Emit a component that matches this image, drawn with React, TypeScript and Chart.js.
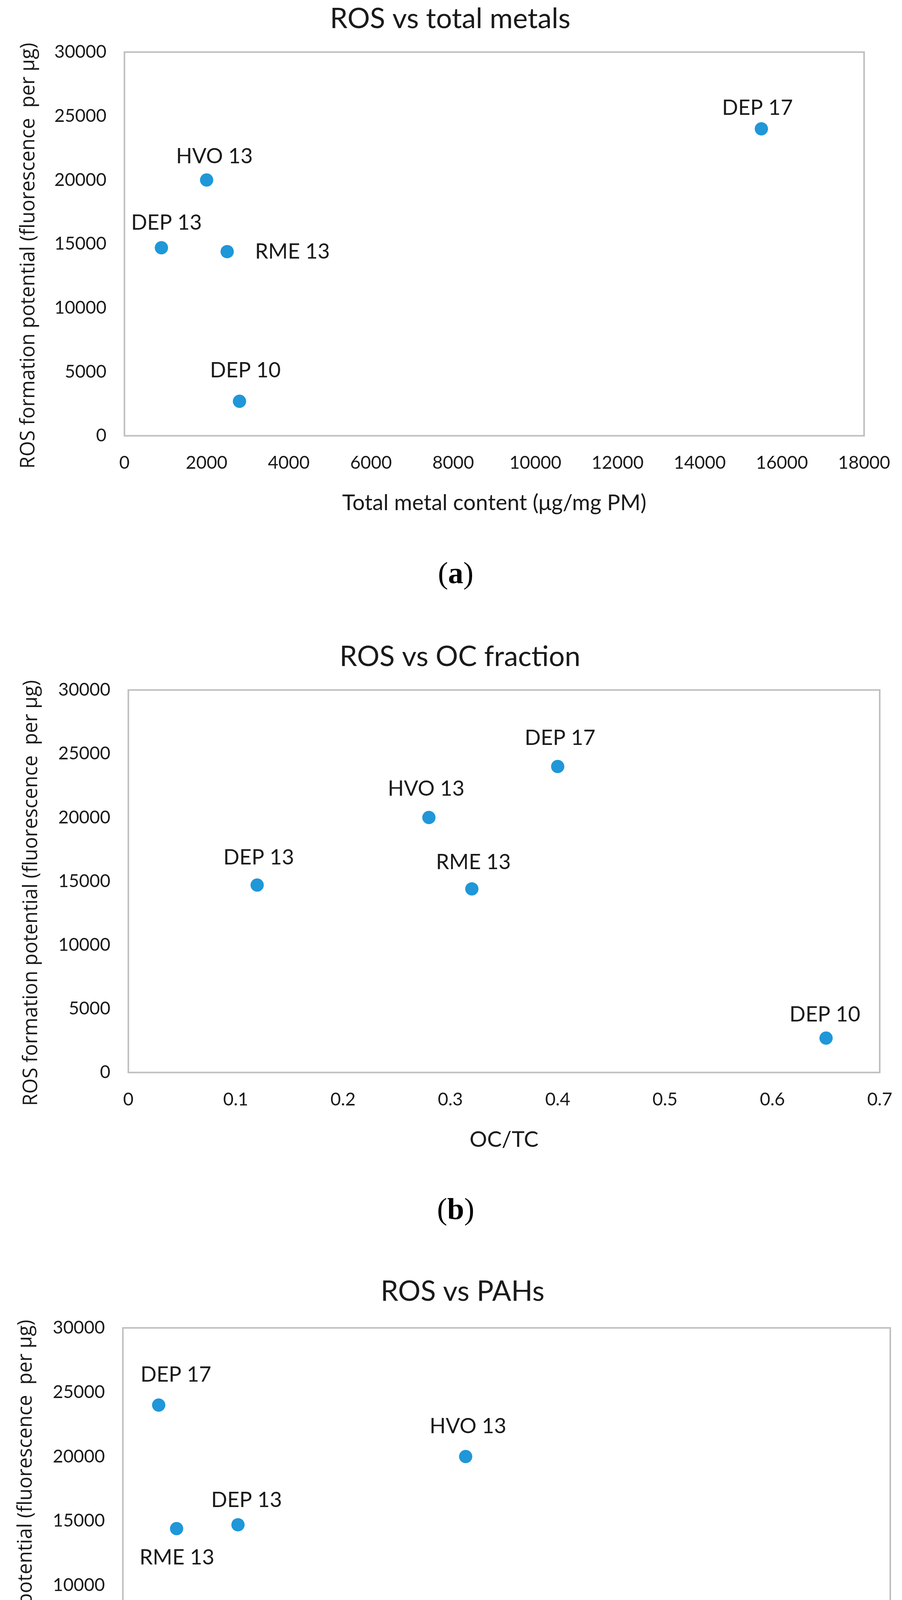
import React, { useEffect, useRef } from "react";
import { Chart, registerables } from "chart.js";

Chart.register(...registerables);

// ---------- data ----------
const samples = ["DEP 10", "DEP 13", "DEP 17", "HVO 13", "RME 13"];
const rosPotential = [2700, 14700, 24000, 20000, 14400];
const totalMetals = [2800, 900, 15500, 2000, 2500];
const ocTcRatio = [0.65, 0.12, 0.4, 0.28, 0.32];
const pahPercent = [2.71, 0.45, 0.14, 1.34, 0.21];

const yTicks = [0, 5000, 10000, 15000, 20000, 25000, 30000];
const xTicksMetals = [0, 2000, 4000, 6000, 8000, 10000, 12000, 14000, 16000, 18000];
const xTicksOc = [0, 0.1, 0.2, 0.3, 0.4, 0.5, 0.6, 0.7];
const xTicksPah = [0, 0.5, 1, 1.5, 2, 2.5, 3];

const chartTitles = ["ROS vs total metals", "ROS vs OC fraction", "ROS vs PAHs"];
const xAxisTitles = ["Total metal content (μg/mg PM)", "OC/TC", "PAHs (% of total PM)"];
const yAxisTitle = "ROS formation potential (fluorescence  per μg)";
const panelLetters = ["a", "b", "c"];

// ---------- styles / layout ----------
const BLUE = "#1F97D8";
const TEXT = "#1a1a1a";
const FRAME = "#BFBFBF";
const SANS = "Lato, 'Open Sans', sans-serif";
const YTITLE_FONT = "50.5px 'Open Sans', sans-serif";

// label offsets (dx, dy) of each point label relative to its marker, same order as samples
const labelOffsetsA = [[15, -79], [13, -64], [-10, -53], [20, -60], [167, 0]];
const labelOffsetsB = [[-3, -60], [4, -70], [6, -73], [-7, -73], [4, -68]];
const labelOffsetsC = [[-13, -71], [22, -63], [44, -77], [6, -77], [1, 74]];

type Panel = {
  x: number[];
  xTicks: number[];
  title: string;
  xTitle: string;
  offsets: number[][];
  top: number;
  height: number;
  padL: number;
  padR: number;
  yTitleX: number;
  titlePadTop: number;
  titlePadBottom: number;
  captionY: number;
  letter: string;
};

const panels: Panel[] = [
  {
    x: totalMetals, xTicks: xTicksMetals, title: chartTitles[0], xTitle: xAxisTitles[0],
    offsets: labelOffsetsA, top: 0, height: 1322, padL: 93, padR: 97, yTitleX: 74,
    titlePadTop: 6, titlePadBottom: 41, captionY: 1475, letter: panelLetters[0],
  },
  {
    x: ocTcRatio, xTicks: xTicksOc, title: chartTitles[1], xTitle: xAxisTitles[1],
    offsets: labelOffsetsB, top: 1600, height: 1352, padL: 103, padR: 57, yTitleX: 81,
    titlePadTop: 39, titlePadBottom: 41, captionY: 3103, letter: panelLetters[1],
  },
  {
    x: pahPercent, xTicks: xTicksPah, title: chartTitles[2], xTitle: xAxisTitles[2],
    offsets: labelOffsetsC, top: 3200, height: 1394, padL: 89, padR: 30, yTitleX: 67,
    titlePadTop: 64, titlePadBottom: 49, captionY: 4733, letter: panelLetters[2],
  },
];

const framePlugin = {
  id: "plotFrame",
  beforeDatasetsDraw(chart: any) {
    const { ctx, chartArea: a } = chart;
    ctx.save();
    ctx.strokeStyle = FRAME;
    ctx.lineWidth = 4;
    ctx.strokeRect(a.left, a.top, a.right - a.left, a.bottom - a.top);
    ctx.restore();
  },
};

function makeYTitlePlugin(cx: number) {
  return {
    id: "yTitle",
    afterDraw(chart: any) {
      const { ctx, chartArea: a } = chart;
      ctx.save();
      ctx.translate(cx, (a.top + a.bottom) / 2 + 30);
      ctx.rotate(-Math.PI / 2);
      ctx.fillStyle = TEXT;
      ctx.font = YTITLE_FONT;
      ctx.textAlign = "center";
      ctx.textBaseline = "middle";
      ctx.fillText(yAxisTitle, 0, 0);
      ctx.restore();
    },
  };
}

function makeLabelPlugin(offsets: number[][]) {
  return {
    id: "pointLabels",
    afterDatasetsDraw(chart: any) {
      const { ctx } = chart;
      const meta = chart.getDatasetMeta(0);
      ctx.save();
      ctx.fillStyle = TEXT;
      ctx.font = `54px ${SANS}`;
      ctx.textAlign = "center";
      ctx.textBaseline = "middle";
      meta.data.forEach((el: any, i: number) => {
        const [dx, dy] = offsets[i];
        ctx.fillText(samples[i], el.x + dx, el.y + dy);
      });
      ctx.restore();
    },
  };
}

function ScatterPanel({ p }: { p: Panel }) {
  const ref = useRef<HTMLCanvasElement | null>(null);
  useEffect(() => {
    if (!ref.current) return;
    const tickFont = { family: SANS, size: 46, lineHeight: 1.2 };
    const chart = new Chart(ref.current, {
      type: "scatter",
      data: {
        datasets: [
          {
            label: "ROS formation potential",
            data: p.x.map((v, i) => ({ x: v, y: rosPotential[i] })),
            backgroundColor: BLUE,
            borderColor: BLUE,
            borderWidth: 0,
            pointRadius: 17,
            pointHoverRadius: 17,
          },
        ],
      },
      options: {
        animation: false,
        responsive: false,
        devicePixelRatio: 1,
        events: [],
        layout: { padding: { left: p.padL, right: p.padR, top: 0, bottom: 0 } },
        plugins: {
          legend: { display: false },
          tooltip: { enabled: false },
          title: {
            display: true,
            text: p.title,
            color: TEXT,
            font: { family: SANS, size: 72, weight: "normal", lineHeight: 1.2 },
            padding: { top: p.titlePadTop, bottom: p.titlePadBottom },
          },
        },
        scales: {
          x: {
            type: "linear",
            min: p.xTicks[0],
            max: p.xTicks[p.xTicks.length - 1],
            afterBuildTicks: (axis: any) => {
              axis.ticks = p.xTicks.map((v) => ({ value: v }));
            },
            ticks: {
              callback: (v: any) => String(v),
              color: TEXT,
              font: tickFont,
              padding: 0,
              maxRotation: 0,
              autoSkip: false,
            },
            grid: { display: false, drawTicks: true, tickLength: 42 },
            border: { display: false },
            title: {
              display: true,
              text: p.xTitle,
              color: TEXT,
              font: { family: SANS, size: 56, lineHeight: 1.2 },
              padding: { top: 42, bottom: 0 },
            },
          },
          y: {
            type: "linear",
            min: yTicks[0],
            max: yTicks[yTicks.length - 1],
            afterBuildTicks: (axis: any) => {
              axis.ticks = yTicks.map((v) => ({ value: v }));
            },
            ticks: {
              callback: (v: any) => String(v),
              color: TEXT,
              font: tickFont,
              padding: 46,
              autoSkip: false,
            },
            grid: { display: false, drawTicks: false },
            border: { display: false },
            title: { display: false },
          },
        },
      } as any,
      plugins: [framePlugin, makeLabelPlugin(p.offsets), makeYTitlePlugin(p.yTitleX)],
    });
    return () => chart.destroy();
  }, [p]);

  return (
    <>
      <canvas
        ref={ref}
        width={2308}
        height={p.height}
        style={{ position: "absolute", left: 0, top: p.top, width: 2308, height: p.height }}
      />
      <div
        style={{
          position: "absolute",
          left: 0,
          width: 2332,
          top: p.captionY - 48,
          textAlign: "center",
          fontFamily: "'Liberation Serif', 'DejaVu Serif', serif",
          fontSize: 78,
          lineHeight: "80px",
          color: "#000",
        }}
      >
        (<b>{p.letter}</b>)
      </div>
    </>
  );
}

export default function App() {
  return (
    <div
      style={{
        position: "absolute",
        left: 0,
        top: 0,
        width: 2308,
        height: 4784,
        background: "#fff",
        overflow: "hidden",
      }}
    >
      {panels.map((p) => (
        <ScatterPanel key={p.letter} p={p} />
      ))}
    </div>
  );
}
